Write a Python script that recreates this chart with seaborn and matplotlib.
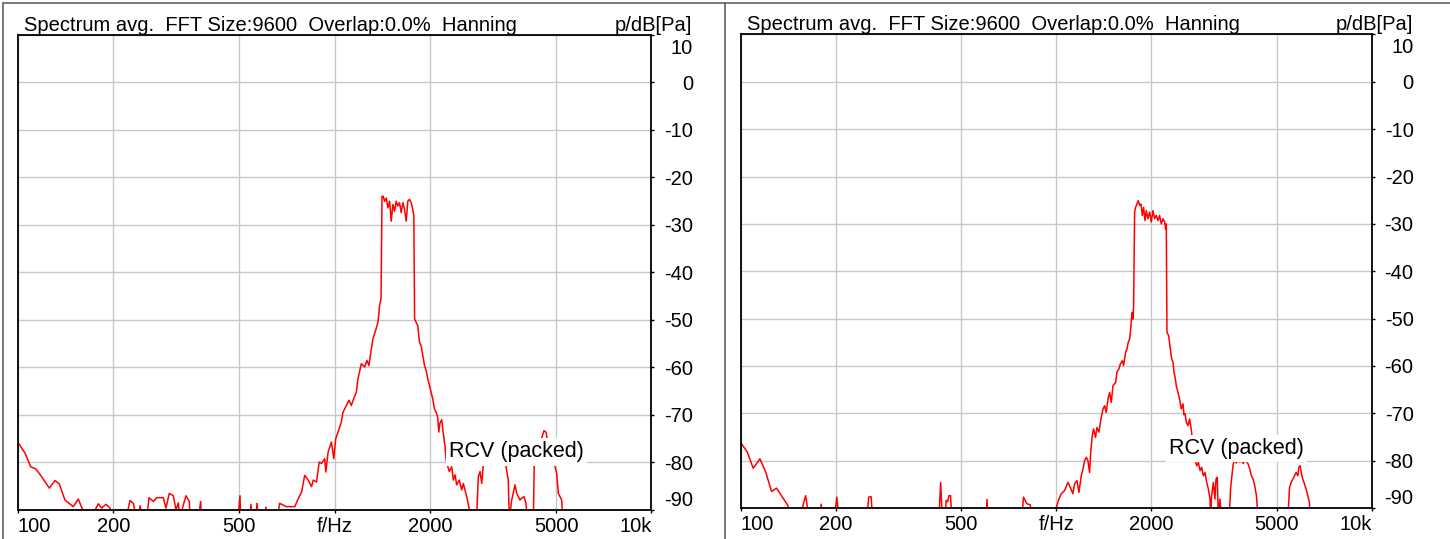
import matplotlib
matplotlib.use("Agg")
import matplotlib.pyplot as plt
from matplotlib.lines import Line2D
from matplotlib.ticker import NullLocator
from matplotlib.transforms import ScaledTranslation
import seaborn as sns

sns.set_theme(style="white")
plt.rcParams["font.family"] = ["Liberation Sans", "DejaVu Sans"]
plt.rcParams["text.color"] = "black"
plt.rcParams["xtick.color"] = "black"
plt.rcParams["ytick.color"] = "black"

TITLE = "Spectrum avg.  FFT Size:9600  Overlap:0.0%  Hanning"
UNIT = "p/dB[Pa]"
NOTE = "RCV (packed)"

x_ticks = [100, 200, 500, 1000, 2000, 5000, 10000]
x_labels = ["100", "200", "500", "f/Hz", "2000", "5000", "10k"]
y_ticks = [10, 0, -10, -20, -30, -40, -50, -60, -70, -80, -90]

# left window: averaged spectrum (Hz, dB)
left_freq = [
    100.2, 105.2, 109.7, 114.0, 118.8, 125.6, 130.9, 135.0, 140.7, 149.5,
    155.0, 160.1, 168.8, 179.3, 183.7, 189.6, 195.2, 198.1, 219.3, 225.7,
    231.2, 234.1, 239.8, 242.8, 247.6, 254.9, 259.2, 267.5, 274.2, 287.5,
    293.2, 300.4, 309.3, 315.4, 320.7, 324.7, 331.1, 339.2, 347.4, 349.2,
    370.9, 377.4, 379.1, 494.9, 502.1, 504.7, 541, 544, 548, 564,
    568, 574, 598, 606, 612, 657, 670, 704, 748, 767,
    786, 804, 824, 845, 855, 876, 893, 908, 930, 937,
    953, 976, 993, 1007, 1024, 1049, 1062, 1088, 1109, 1128,
    1147, 1170, 1184, 1213, 1243, 1264, 1282, 1298, 1320, 1346,
    1369, 1385, 1400, 1410, 1420, 1437, 1454, 1472, 1490, 1508,
    1526, 1545, 1563, 1582, 1601, 1621, 1641, 1661, 1681, 1701,
    1722, 1743, 1764, 1777, 1787, 1807, 1829, 1851, 1874, 1897,
    1920, 1943, 1967, 1991, 2015, 2039, 2064, 2089, 2114, 2130,
    2149, 2176, 2201, 2229, 2245, 2257, 2300, 2340, 2368, 2397,
    2427, 2473, 2517, 2546, 2610, 2660, 2738, 2807, 2840, 2875,
    2911, 2944, 3018, 3130, 3245, 3366, 3447, 3473, 3531, 3557,
    3620, 3708, 3754, 3798, 3845, 3892, 3958, 4016, 4054, 4236,
    4266, 4309, 4446, 4577, 4644, 4747, 4898, 4959, 5020, 5080,
    5142, 5207, 5245, 10000,
]
left_db = [
    -75.9, -78.0, -80.9, -81.4, -83.0, -85.4, -83.8, -84.5, -87.9, -89.3,
    -87.7, -90.0, -92.0, -88.7, -89.6, -88.8, -89.6, -92.0, -92.0, -88.0,
    -88.6, -90.3, -92.0, -89.1, -92.0, -92.0, -87.4, -88.2, -87.4, -87.4,
    -89.6, -86.5, -87.0, -90.0, -88.5, -92.0, -89.4, -87.0, -88.2, -92.0,
    -92.0, -88.2, -92.0, -92.0, -87.0, -92.0, -92.0, -88.8, -92.0, -92.0,
    -88.6, -92.0, -92.0, -89.4, -92.0, -92.0, -88.6, -89.3, -89.3, -87.6,
    -86.2, -82.7, -83.7, -85.1, -83.7, -84.1, -79.9, -80.2, -79.2, -82.0,
    -77.8, -75.7, -79.2, -75.0, -73.6, -71.5, -69.4, -68.0, -66.9, -68.0,
    -66.6, -65.2, -62.4, -59.2, -59.9, -58.5, -59.6, -57.1, -54.0, -52.2,
    -50.5, -47.0, -45.5, -24.0, -23.9, -25.0, -24.3, -26.4, -25.0, -29.2,
    -25.7, -27.1, -25.0, -26.0, -25.3, -27.4, -25.3, -26.7, -29.2, -25.0,
    -24.6, -25.3, -26.7, -28.1, -49.8, -50.5, -51.2, -54.7, -55.4, -57.5,
    -59.6, -60.6, -62.4, -63.8, -65.2, -66.6, -68.7, -69.4, -70.5, -73.6,
    -71.7, -71.0, -73.8, -76.6, -79.2, -80.1, -81.9, -80.9, -83.7, -82.6,
    -84.7, -83.7, -85.8, -84.4, -87.2, -89.8, -92.0, -91.0, -83.0, -81.9,
    -84.4, -80.5, -79.8, -80.3, -79.6, -80.1, -79.8, -80.9, -83.7, -92.0,
    -87.9, -84.7, -86.5, -87.2, -87.9, -87.5, -87.2, -88.6, -92.0, -92.0,
    -79.8, -80.0, -76.0, -73.3, -73.6, -77.0, -79.8, -80.9, -82.3, -86.5,
    -87.2, -87.9, -92.0, -92.0,
]

# right window: averaged spectrum (Hz, dB)
right_freq = [
    100.4, 105.1, 109.7, 115.2, 120.3, 125.4, 130.0, 134.8, 141.4, 143.2,
    154.0, 160.8, 164.8, 177.1, 180.2, 181.5, 198.5, 201.8, 204.8, 251.6,
    254.6, 259.1, 262.1, 425.1, 430.4, 435.4, 444.0, 448.2, 452.9, 457.1,
    462.8, 466.2, 599.4, 603.7, 606.7, 778, 787.6, 797.4, 806.7, 826.9,
    840.8, 990, 1000, 1020, 1037, 1063, 1089, 1107, 1129, 1143,
    1163, 1180, 1200, 1215, 1230, 1245, 1260, 1275, 1285, 1300,
    1313, 1332, 1345, 1365, 1389, 1406, 1423, 1440, 1458, 1476,
    1494, 1512, 1542, 1557, 1580, 1595, 1619, 1634, 1659, 1675,
    1691, 1708, 1724, 1737, 1750, 1758, 1771, 1784, 1801, 1819,
    1837, 1855, 1873, 1891, 1910, 1928, 1952, 1976, 2000, 2024,
    2049, 2074, 2100, 2125, 2151, 2178, 2204, 2220, 2231, 2242,
    2270, 2297, 2320, 2343, 2360, 2383, 2400, 2430, 2459, 2489,
    2520, 2538, 2559, 2582, 2613, 2645, 2678, 2715, 2752, 2786,
    2819, 2854, 2888, 2924, 2959, 2995, 3032, 3069, 3083, 3106,
    3144, 3182, 3205, 3236, 3260, 3299, 3339, 3532, 3565, 3600,
    3635, 3679, 3720, 3769, 3815, 3861, 3910, 3956, 4052, 4102,
    4152, 4202, 4253, 4305, 4357, 5415, 5481, 5548, 5615, 5684,
    5753, 5823, 5865, 5922, 5980, 6038, 6111, 6185, 6261, 6337,
    6368, 10000,
]
right_db = [
    -76.3, -78.2, -81.6, -79.6, -82.5, -86.5, -85.8, -87.4, -89.5, -92.0,
    -92.0, -87.4, -92.0, -92.0, -89.2, -92.0, -92.0, -87.7, -92.0, -92.0,
    -87.7, -87.6, -92.0, -92.0, -84.6, -92.0, -92.0, -88.4, -88.7, -87.4,
    -87.4, -92.0, -92.0, -88.2, -92.0, -92.0, -87.7, -88.4, -89.1, -89.3,
    -92.0, -92.0, -89.9, -88.1, -87.0, -86.3, -84.6, -85.6, -87.0, -84.9,
    -84.2, -86.7, -83.2, -81.8, -80.0, -79.3, -80.0, -82.5, -78.6, -74.7,
    -73.3, -75.1, -73.0, -74.0, -70.8, -69.1, -68.4, -69.8, -67.0, -65.6,
    -67.7, -64.2, -63.5, -61.3, -60.6, -59.6, -58.9, -59.9, -57.1, -56.4,
    -55.0, -54.3, -51.5, -48.7, -50.1, -47.3, -27.5, -26.5, -25.8, -25.1,
    -26.1, -25.8, -28.2, -26.5, -29.3, -27.2, -28.9, -27.5, -29.6, -27.2,
    -28.9, -28.2, -29.3, -28.2, -30.0, -28.9, -29.6, -31.1, -30.0, -52.9,
    -53.6, -56.4, -58.5, -59.2, -61.3, -62.7, -64.2, -65.6, -67.0, -69.1,
    -68.0, -70.3, -70.1, -71.9, -72.6, -71.2, -73.5, -77.0, -80.0, -81.1,
    -80.4, -82.1, -81.4, -83.2, -82.5, -84.6, -86.0, -88.1, -92.0, -87.4,
    -84.6, -88.1, -83.9, -83.5, -92.0, -88.1, -92.0, -92.0, -86.0, -83.2,
    -80.7, -79.8, -80.5, -79.6, -80.3, -80.0, -80.6, -79.6, -80.7, -81.8,
    -83.2, -83.9, -85.3, -87.4, -92.0, -92.0, -85.6, -84.6, -83.9, -83.2,
    -82.5, -83.2, -81.4, -81.1, -82.8, -83.9, -84.9, -86.0, -87.4, -88.8,
    -92.0, -92.0,
]

# where the "RCV (packed)" note sits (Hz, dB)
left_note = (2295, -78.9)
right_note = (2280, -78.6)

FS = 14.5


def draw_panel(fig, rect, freq, db, note_at):
    ax = fig.add_axes(rect)
    ax.set_xscale("log")
    sns.lineplot(x=freq, y=db, ax=ax, color="#ff0000", linewidth=1.1,
                 sort=False, estimator=None)
    ax.set_xlim(100, 10000)
    ax.set_ylim(-90, 10)

    ax.set_xticks(x_ticks)
    ax.set_xticklabels(x_labels)
    ax.xaxis.set_minor_locator(NullLocator())
    ax.set_yticks(y_ticks)
    ax.set_yticklabels([str(v) for v in y_ticks])
    ax.set_xlabel("")
    ax.set_ylabel("")

    ax.grid(True, color="#c8c8c8", linewidth=1.0)
    ax.set_axisbelow(True)
    for sp in ax.spines.values():
        sp.set_visible(True)
        sp.set_color("black")
        sp.set_linewidth(1.3)

    ax.tick_params(axis="x", which="major", bottom=True, direction="out",
                   length=2.2, width=1, pad=2.5, labelsize=FS)
    ax.tick_params(axis="y", which="major", left=False, right=True,
                   labelleft=False, labelright=True, direction="out",
                   length=2.2, width=1, pad=27.7, labelsize=FS)

    xl = ax.get_xticklabels()
    xl[0].set_horizontalalignment("left")
    xl[-1].set_horizontalalignment("right")
    yl = ax.get_yticklabels()
    for lab in yl:
        lab.set_horizontalalignment("right")
    # the top label sits a bit lower, inside the frame
    yl[0].set_verticalalignment("top")
    yl[0].set_transform(yl[0].get_transform()
                        + ScaledTranslation(0, -4 / 100, fig.dpi_scale_trans))
    yl[-1].set_verticalalignment("bottom")

    ax.annotate(TITLE, xy=(0, 1), xycoords="axes fraction", xytext=(6, 4),
                textcoords="offset pixels", ha="left", va="baseline", fontsize=FS)
    ax.annotate(UNIT, xy=(1, 1), xycoords="axes fraction", xytext=(41, 4),
                textcoords="offset pixels", ha="right", va="baseline", fontsize=FS)

    ax.text(note_at[0], note_at[1], NOTE, fontsize=15.5, ha="left", va="baseline",
            zorder=5, bbox=dict(boxstyle="square,pad=0.15", facecolor="white",
                                edgecolor="none"))
    return ax


fig = plt.figure(figsize=(14.5, 5.39), dpi=100)
fig.patch.set_facecolor("white")

draw_panel(fig, [0.01241, 0.0538, 0.4369, 0.8813], left_freq, left_db, left_note)
draw_panel(fig, [0.5107, 0.0575, 0.4355, 0.8785], right_freq, right_db, right_note)

# window frames
top = 1 - 2.5 / 539
frame = dict(transform=fig.transFigure, color="#555555", linewidth=1.1)
fig.add_artist(Line2D([2.5 / 1450, 2.5 / 1450], [0, top], **frame))
fig.add_artist(Line2D([2.5 / 1450, 1], [top, top], **frame))
fig.add_artist(Line2D([0.5, 0.5], [0, top], **frame))

fig.savefig("out.png", dpi=100)
